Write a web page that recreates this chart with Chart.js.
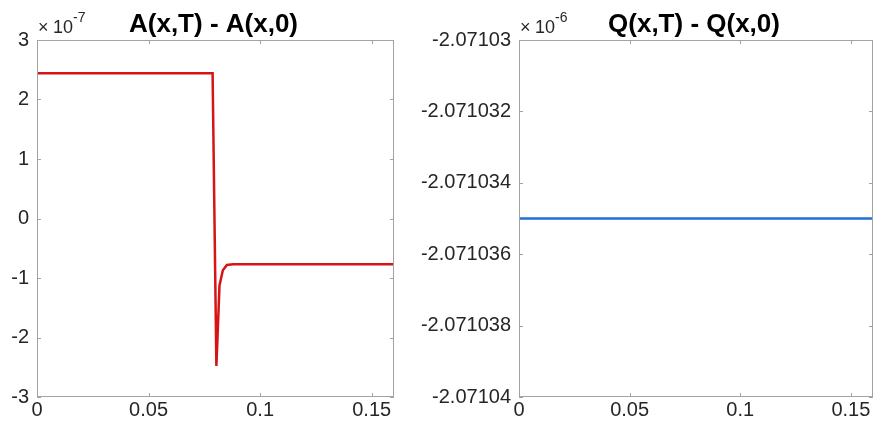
<!DOCTYPE html>
<html>
<head>
<meta charset="utf-8">
<script src="https://cdn.jsdelivr.net/npm/chart.js@4/dist/chart.umd.min.js"></script>
<style>
  html, body { margin: 0; padding: 0; background: #fff; }
  #wrap { position: relative; width: 875px; height: 431px; overflow: hidden; }
  canvas { position: absolute; top: 0; }
  #left { left: 0; }
  #right { left: 400px; }
</style>
</head>
<body>
<div id="wrap">
  <canvas id="left" width="440" height="431"></canvas>
  <canvas id="right" width="475" height="431"></canvas>
</div>
<script>
// shared x positions along the domain
const xTicks = [0, 0.05, 0.1, 0.15];
const xTickLabels = ['0', '0.05', '0.1', '0.15'];

// A(x,T) - A(x,0), in units of 1e-7
const aX = [0, 0.0787, 0.0804, 0.0818, 0.0833, 0.0851, 0.0880, 0.16];
const aY = [2.44, 2.44, -2.48, -1.12, -0.87, -0.78, -0.77, -0.77];
const aTicks = [-3, -2, -1, 0, 1, 2, 3];
const aTickLabels = ['-3', '-2', '-1', '0', '1', '2', '3'];

// Q(x,T) - Q(x,0), in units of 1e-6
const qX = [0, 0.16];
const qY = [-2.071035, -2.071035];
const qTicks = [-2.07104, -2.071038, -2.071036, -2.071034, -2.071032, -2.07103];
const qTickLabels = ['-2.07104', '-2.071038', '-2.071036', '-2.071034', '-2.071032', '-2.07103'];

const FONT = '"Liberation Sans", Arial, Helvetica, sans-serif';
const axisColor = '#a3a3a3';
const textColor = '#262626';

// box, inward ticks, title and exponent label, MATLAB style
function frame(title, expo) {
  return {
    id: 'frame',
    afterDraw(chart) {
      const { ctx, chartArea: a, scales: { x, y } } = chart;
      ctx.save();
      ctx.strokeStyle = axisColor;
      ctx.lineWidth = 1;
      ctx.strokeRect(a.left + 0.5, a.top + 0.5, a.right - a.left - 1, a.bottom - a.top - 1);
      const len = 4;
      ctx.beginPath();
      x.ticks.forEach(t => {
        const px = Math.round(x.getPixelForValue(t.value)) + 0.5;
        ctx.moveTo(px, a.bottom); ctx.lineTo(px, a.bottom - len);
        ctx.moveTo(px, a.top); ctx.lineTo(px, a.top + len);
      });
      y.ticks.forEach(t => {
        const py = Math.round(y.getPixelForValue(t.value)) + 0.5;
        ctx.moveTo(a.left, py); ctx.lineTo(a.left + len, py);
        ctx.moveTo(a.right, py); ctx.lineTo(a.right - len, py);
      });
      ctx.stroke();

      ctx.fillStyle = '#000';
      ctx.font = 'bold 26px ' + FONT;
      ctx.textAlign = 'center';
      ctx.textBaseline = 'alphabetic';
      ctx.fillText(title, (a.left + a.right) / 2 - 2, 32);

      ctx.fillStyle = textColor;
      ctx.textAlign = 'left';
      ctx.font = '18px ' + FONT;
      ctx.fillText('\u00d7', a.left + 1, 33);
      ctx.fillText('10', a.left + 16, 33);
      const w = ctx.measureText('10').width;
      ctx.font = '14px ' + FONT;
      ctx.fillText(expo, a.left + 16 + w, 22);
      ctx.restore();
    }
  };
}

function makeChart(id, xs, ys, color, yTicks, yLabels, yMin, yMax, yWidth, padRight, title, expo) {
  const points = xs.map((v, i) => ({ x: v, y: ys[i] }));
  return new Chart(document.getElementById(id), {
    type: 'line',
    data: {
      datasets: [{
        data: points,
        borderColor: color,
        borderWidth: 2.5,
        pointRadius: 0,
        tension: 0,
        fill: false
      }]
    },
    options: {
      responsive: false,
      animation: false,
      layout: { padding: { top: 40, right: padRight, left: 0, bottom: 0 } },
      plugins: { legend: { display: false }, tooltip: { enabled: false } },
      scales: {
        x: {
          type: 'linear',
          min: 0,
          max: 0.16,
          grid: { display: false, drawTicks: false },
          border: { display: false },
          afterBuildTicks: s => { s.ticks = xTicks.map(v => ({ value: v })); },
          afterFit: s => { s.height = 34; },
          ticks: {
            padding: 1,
            maxRotation: 0,
            autoSkip: false,
            color: textColor,
            font: { family: FONT, size: 20 },
            callback: (v, i) => xTickLabels[i]
          }
        },
        y: {
          type: 'linear',
          min: yMin,
          max: yMax,
          grid: { display: false, drawTicks: false },
          border: { display: false },
          afterBuildTicks: s => { s.ticks = yTicks.map(v => ({ value: v })); },
          afterFit: s => { s.width = yWidth; },
          ticks: {
            padding: 8,
            autoSkip: false,
            color: textColor,
            font: { family: FONT, size: 20 },
            callback: (v, i) => yLabels[i]
          }
        }
      }
    },
    plugins: [frame(title, expo)]
  });
}

makeChart('left', aX, aY, '#d61414', aTicks, aTickLabels, -3, 3, 37, 46,
  'A(x,T) - A(x,0)', '-7');
makeChart('right', qX, qY, '#1f6fdc', qTicks, qTickLabels, -2.07104, -2.07103, 119, 2,
  'Q(x,T) - Q(x,0)', '-6');
</script>
</body>
</html>
